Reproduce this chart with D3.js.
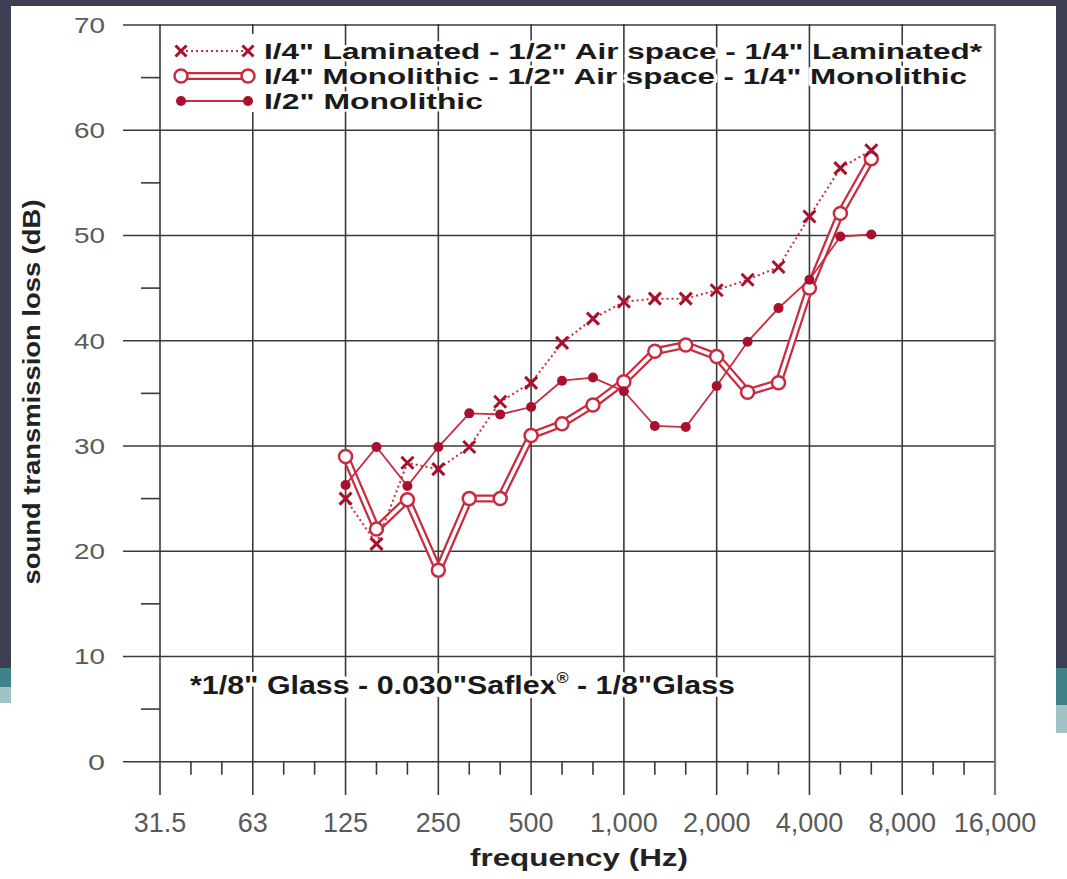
<!DOCTYPE html>
<html>
<head>
<meta charset="utf-8">
<script src="https://cdn.jsdelivr.net/npm/d3@7"></script>
<style>
  body { margin: 0; background: #3d3f52; }
  svg { display: block; font-family: "Liberation Sans", Arial, sans-serif; }
</style>
</head>
<body>
<svg id="chart"></svg>
<script>
// 1/3-octave bands from 31.5 Hz to 16 kHz (x positions)
var bands = [31.5, 40, 50, 63, 80, 100, 125, 160, 200, 250, 315, 400, 500, 630, 800,
             1000, 1250, 1600, 2000, 2500, 3150, 4000, 5000, 6300, 8000, 10000, 12500, 16000];
var octaves = [31.5, 63, 125, 250, 500, 1000, 2000, 4000, 8000, 16000];
var octaveLabels = ["31.5", "63", "125", "250", "500", "1,000", "2,000", "4,000", "8,000", "16,000"];
var yMajor = [0, 10, 20, 30, 40, 50, 60, 70];
var yMinor = [5, 15, 25, 35, 45, 55, 65];

// measured frequencies
var freqs = [125, 160, 200, 250, 315, 400, 500, 630, 800, 1000, 1250, 1600, 2000, 2500, 3150, 4000, 5000, 6300];
var laminated  = [25.0, 20.7, 28.4, 27.8, 29.9, 34.2, 36.0, 39.8, 42.1, 43.7, 44.0, 44.0, 44.8, 45.8, 47.0, 51.8, 56.4, 58.1];
var doubleMono = [29.0, 22.1, 24.9, 18.2, 25.0, 25.0, 31.0, 32.1, 33.9, 36.1, 39.0, 39.6, 38.5, 35.1, 36.0, 45.0, 52.1, 57.3];
var halfMono   = [26.3, 29.9, 26.2, 29.9, 33.1, 33.0, 33.7, 36.2, 36.5, 35.2, 31.9, 31.8, 35.7, 39.9, 43.1, 45.8, 49.9, 50.1];

var legendLabels = [
  "I/4\" Laminated - 1/2\" Air space - 1/4\" Laminated*",
  "I/4\" Monolithic - 1/2\" Air space - 1/4\" Monolithic",
  "I/2\" Monolithic"
];

var W = 1067, H = 879;
var red = "#c92c40", darkRed = "#a8102c", grid = "#3a3a3a";

var svg = d3.select("#chart").attr("width", W).attr("height", H);

// slide background
svg.append("rect").attr("width", W).attr("height", H).attr("fill", "#3d3f52");
svg.append("rect").attr("x", 0).attr("y", 668).attr("width", 11).attr("height", 19).attr("fill", "#3e8387");
svg.append("rect").attr("x", 0).attr("y", 687).attr("width", 11).attr("height", 16).attr("fill", "#a2c3c5");
svg.append("rect").attr("x", 1056).attr("y", 668).attr("width", 11).attr("height", 37).attr("fill", "#3e8387");
svg.append("rect").attr("x", 1056).attr("y", 705).attr("width", 11).attr("height", 28).attr("fill", "#a2c3c5");
svg.append("rect").attr("x", 0).attr("y", 703).attr("width", 11).attr("height", H - 703).attr("fill", "#fff");
svg.append("rect").attr("x", 1056).attr("y", 733).attr("width", 11).attr("height", H - 733).attr("fill", "#fff");
svg.append("rect").attr("x", 11).attr("y", 6).attr("width", 1045).attr("height", H - 6).attr("fill", "#fff");

var x = d3.scalePoint().domain(bands).range([160, 995]);
var y = d3.scaleLinear().domain([0, 70]).range([761.7, 25]);

// grid
var g = svg.append("g");
g.selectAll(".hgrid").data(yMajor).enter().append("line")
  .attr("x1", 123).attr("x2", 995)
  .attr("y1", d => y(d)).attr("y2", d => y(d))
  .attr("stroke", grid).attr("stroke-width", 1.6);
g.selectAll(".vgrid").data(octaves).enter().append("line")
  .attr("x1", d => x(d)).attr("x2", d => x(d))
  .attr("y1", y(70) - 1).attr("y2", 795)
  .attr("stroke", d => d === 16000 ? "#777" : grid)
  .attr("stroke-width", d => d === 16000 ? 2.2 : 1.6);
g.selectAll(".ymin").data(yMinor).enter().append("line")
  .attr("x1", 141).attr("x2", 160)
  .attr("y1", d => y(d)).attr("y2", d => y(d))
  .attr("stroke", grid).attr("stroke-width", 1.6);
g.selectAll(".xmin").data(bands.filter(b => octaves.indexOf(b) < 0)).enter().append("line")
  .attr("x1", d => x(d)).attr("x2", d => x(d))
  .attr("y1", y(0)).attr("y2", y(0) + 13)
  .attr("stroke", grid).attr("stroke-width", 1.6);

// tick labels
svg.selectAll(".ylab").data(yMajor).enter().append("text")
  .attr("x", 105).attr("y", d => y(d) + 8)
  .attr("text-anchor", "end")
  .attr("font-size", 22).attr("fill", "#5a5a5a")
  .attr("textLength", d => d === 0 ? 17 : 31).attr("lengthAdjust", "spacingAndGlyphs")
  .text(d => d);
svg.selectAll(".xlab").data(octaves).enter().append("text")
  .attr("x", d => x(d)).attr("y", 832)
  .attr("text-anchor", "middle")
  .attr("font-size", 27).attr("fill", "#5a5a5a")
  .text((d, i) => octaveLabels[i]);

// axis titles
svg.append("text")
  .attr("x", 579).attr("y", 866)
  .attr("text-anchor", "middle")
  .attr("font-size", 24).attr("font-weight", "bold").attr("fill", "#222")
  .attr("textLength", 218).attr("lengthAdjust", "spacingAndGlyphs")
  .text("frequency (Hz)");
svg.append("text")
  .attr("transform", "translate(40,392) rotate(-90)")
  .attr("text-anchor", "middle")
  .attr("font-size", 24).attr("font-weight", "bold").attr("fill", "#222")
  .attr("textLength", 385).attr("lengthAdjust", "spacingAndGlyphs")
  .text("sound transmission loss (dB)");

// footnote
var foot = svg.append("text")
  .attr("x", 190).attr("y", 694)
  .attr("font-size", 26).attr("font-weight", "bold").attr("fill", "#1a1a1a")
  .attr("stroke", "#fff").attr("stroke-width", 8).attr("paint-order", "stroke")
  .attr("stroke-linejoin", "round");
foot.append("tspan").text("*1/8\" Glass - 0.030\"Saflex");
foot.append("tspan").attr("font-size", 14).attr("dy", -11).text("®");
foot.append("tspan").attr("dy", 11).text(" - 1/8\"Glass");
foot.attr("textLength", 545).attr("lengthAdjust", "spacingAndGlyphs");

// series
var pts = arr => freqs.map((f, i) => [x(f), y(arr[i])]);
var line = d3.line();

// double line: 1/4" monolithic - air - 1/4" monolithic
svg.append("path").attr("d", line(pts(doubleMono)))
  .attr("fill", "none").attr("stroke", red).attr("stroke-width", 8).attr("stroke-linejoin", "round");
svg.append("path").attr("d", line(pts(doubleMono)))
  .attr("fill", "none").attr("stroke", "#fff").attr("stroke-width", 3.5).attr("stroke-linejoin", "round");
svg.selectAll(".circ").data(pts(doubleMono)).enter().append("circle")
  .attr("cx", d => d[0]).attr("cy", d => d[1]).attr("r", 6.5)
  .attr("fill", "#fff").attr("stroke", red).attr("stroke-width", 2.5);

// dotted: laminated
svg.append("path").attr("d", line(pts(laminated)))
  .attr("fill", "none").attr("stroke", red).attr("stroke-width", 2).attr("stroke-dasharray", "2,3");
function cross(sel, s) {
  sel.append("path")
    .attr("d", d => "M" + (d[0] - s) + "," + (d[1] - s) + "L" + (d[0] + s) + "," + (d[1] + s) +
                    "M" + (d[0] - s) + "," + (d[1] + s) + "L" + (d[0] + s) + "," + (d[1] - s))
    .attr("stroke", darkRed).attr("stroke-width", 3).attr("fill", "none");
}
svg.selectAll(".cr").data(pts(laminated)).enter().call(cross, 6);

// thin solid: 1/2" monolithic
svg.append("path").attr("d", line(pts(halfMono)))
  .attr("fill", "none").attr("stroke", red).attr("stroke-width", 1.8);
svg.selectAll(".dot").data(pts(halfMono)).enter().append("circle")
  .attr("cx", d => d[0]).attr("cy", d => d[1]).attr("r", 5)
  .attr("fill", darkRed);

// legend
var lg = svg.append("g");
lg.append("rect").attr("x", 168).attr("y", 34).attr("width", 90).attr("height", 78).attr("fill", "#fff");
var rows = [51, 76, 101], lx1 = 181, lx2 = 248;
lg.append("line").attr("x1", lx1).attr("x2", lx2).attr("y1", rows[0]).attr("y2", rows[0])
  .attr("stroke", red).attr("stroke-width", 2).attr("stroke-dasharray", "2,3");
lg.selectAll(".lcr").data([[lx1, rows[0]], [lx2, rows[0]]]).enter().call(cross, 5.5);
lg.append("line").attr("x1", lx1).attr("x2", lx2).attr("y1", rows[1]).attr("y2", rows[1])
  .attr("stroke", red).attr("stroke-width", 8);
lg.append("line").attr("x1", lx1).attr("x2", lx2).attr("y1", rows[1]).attr("y2", rows[1])
  .attr("stroke", "#fff").attr("stroke-width", 3.5);
lg.selectAll(".lci").data([lx1, lx2]).enter().append("circle")
  .attr("cx", d => d).attr("cy", rows[1]).attr("r", 6.5)
  .attr("fill", "#fff").attr("stroke", red).attr("stroke-width", 2.5);
lg.append("line").attr("x1", lx1).attr("x2", lx2).attr("y1", rows[2]).attr("y2", rows[2])
  .attr("stroke", red).attr("stroke-width", 1.8);
lg.selectAll(".ldo").data([lx1, lx2]).enter().append("circle")
  .attr("cx", d => d).attr("cy", rows[2]).attr("r", 5).attr("fill", darkRed);
var widths = [718, 703, 219];
lg.selectAll(".ltx").data(legendLabels).enter().append("text")
  .attr("x", 264).attr("y", (d, i) => rows[i] + 8)
  .attr("font-size", 21.5).attr("font-weight", "bold").attr("fill", "#1a1a1a")
  .attr("stroke", "#fff").attr("stroke-width", 5).attr("paint-order", "stroke")
  .attr("stroke-linejoin", "round")
  .attr("textLength", (d, i) => widths[i]).attr("lengthAdjust", "spacingAndGlyphs")
  .text(d => d);
</script>
</body>
</html>
